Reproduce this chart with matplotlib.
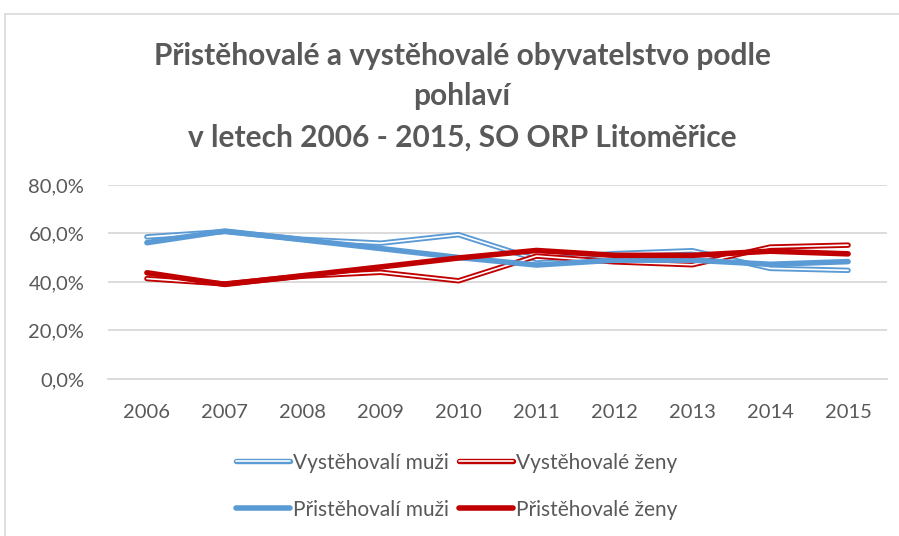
import matplotlib.pyplot as plt
import matplotlib.patheffects as pe
from matplotlib.patches import Rectangle
from matplotlib.ticker import FuncFormatter

plt.rcParams["font.family"] = ["Lato", "DejaVu Sans"]

TEXT = "#595959"
BLUE = "#5B9BD5"
RED = "#C00000"
GRID = "#D9D9D9"

years = ["2006", "2007", "2008", "2009", "2010", "2011", "2012", "2013", "2014", "2015"]

# podíly v %
vyst_muzi = [58.6, 60.8, 57.6, 56.0, 59.5, 49.3, 51.7, 52.9, 45.6, 44.8]
vyst_zeny = [41.4, 39.2, 42.4, 44.0, 40.5, 50.7, 48.3, 47.1, 54.4, 55.2]
prist_muzi = [56.2, 61.0, 57.4, 53.8, 50.1, 47.0, 49.0, 49.0, 47.3, 48.4]
prist_zeny = [43.8, 39.0, 42.6, 46.2, 49.9, 53.0, 51.0, 51.0, 52.7, 51.6]

fig = plt.figure(figsize=(8.99, 5.36), dpi=100)
ax = fig.add_axes([0.1201, 0.2929, 0.8666, 0.362])

# rámeček grafu
fig.patches.append(Rectangle((5 / 899, -0.01), 1.0, 1 - 14 / 536 + 0.01,
                             transform=fig.transFigure, fill=False,
                             edgecolor="#D9D9D9", linewidth=1.2))

x = list(range(len(years)))


def double_line(values, color, label):
    # "dvojitá" čára jako v Excelu: barevný obrys + bílý střed
    line, = ax.plot(x, values, color="white", linewidth=1.2, label=label,
                    solid_capstyle="round", solid_joinstyle="round",
                    path_effects=[pe.Stroke(linewidth=3.9, foreground=color), pe.Normal()])
    return line


h_vm = double_line(vyst_muzi, BLUE, "Vystěhovalí muži")
h_vz = double_line(vyst_zeny, RED, "Vystěhovalé ženy")
h_pm, = ax.plot(x, prist_muzi, color=BLUE, linewidth=4.0, label="Přistěhovalí muži",
                solid_capstyle="round", solid_joinstyle="round")
h_pz, = ax.plot(x, prist_zeny, color=RED, linewidth=4.0, label="Přistěhovalé ženy",
                solid_capstyle="round", solid_joinstyle="round")

ax.set_xlim(-0.5, len(years) - 0.5)
ax.set_ylim(0, 80)
ax.set_yticks([0, 20, 40, 60, 80])
ax.yaxis.set_major_formatter(FuncFormatter(lambda v, _: f"{v:.1f}%".replace(".", ",")))
ax.set_xticks(x)
ax.set_xticklabels(years)
ax.grid(axis="y", color=GRID, linewidth=1.3)
ax.set_axisbelow(True)
for side in ("top", "right", "left"):
    ax.spines[side].set_visible(False)
ax.spines["bottom"].set_color(GRID)
ax.spines["bottom"].set_linewidth(1.3)
ax.tick_params(axis="both", length=0, labelsize=14.5, colors=TEXT)
ax.tick_params(axis="y", pad=17)
ax.tick_params(axis="x", pad=18)

fig.text(0.514, 0.82, "Přistěhovalé a vystěhovalé obyvatelstvo podle\npohlaví\nv letech 2006 - 2015, SO ORP Litoměřice",
         ha="center", va="center", fontsize=21.5, fontweight="bold", color=TEXT,
         linespacing=1.55)

# pořadí po sloupcích -> v řádcích: V muži, V ženy / P muži, P ženy
leg = fig.legend([h_vm, h_pm, h_vz, h_pz],
                 [h.get_label() for h in (h_vm, h_pm, h_vz, h_pz)],
                 loc="center", bbox_to_anchor=(0.508, 0.093), ncol=2, frameon=False,
                 fontsize=15, handlelength=2.6, handletextpad=0.15, columnspacing=0.5,
                 labelspacing=1.3)
for t in leg.get_texts():
    t.set_color(TEXT)

fig.savefig("out.png", dpi=100)
